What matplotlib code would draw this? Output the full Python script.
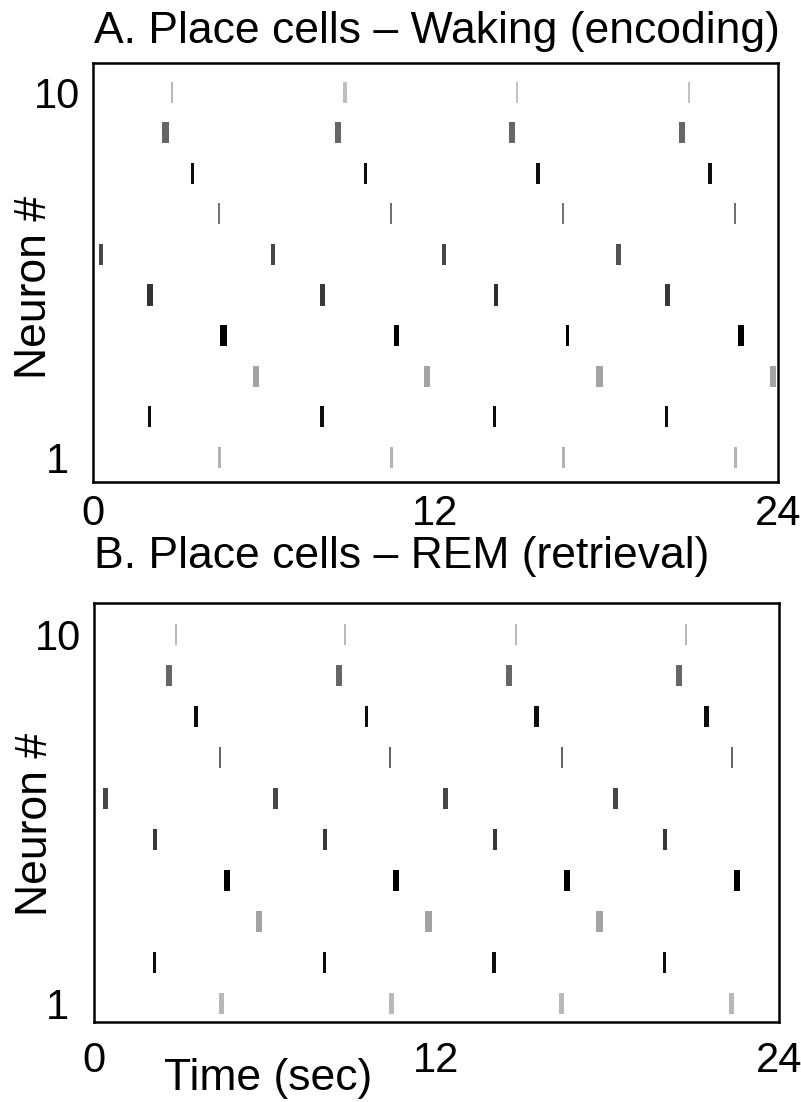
import matplotlib
matplotlib.use("Agg")
import matplotlib.pyplot as plt
import matplotlib.transforms as mtransforms
import numpy as np

plt.rcParams['font.family'] = ['Liberation Sans', 'DejaVu Sans']

# ---------------- data ----------------
neurons = list(range(1, 11))   # neuron index, row order 1..10

# Panel A: waking (encoding) - spike times (s), rows = neuron 1..10
wake_times = [
    [4.42, 10.46, 16.49, 22.51],   # 1
    [1.98, 8.02, 14.08, 20.09],    # 2
    [5.71, 11.71, 17.76, 23.85],   # 3
    [4.58, 10.64, 16.64, 22.71],   # 4
    [1.99, 8.03, 14.11, 20.12],    # 5
    [0.27, 6.29, 12.31, 18.41],    # 6
    [4.40, 10.44, 16.46, 22.49],   # 7
    [3.47, 9.56, 15.59, 21.63],    # 8
    [2.54, 8.57, 14.67, 20.65],    # 9
    [2.76, 8.82, 14.87, 20.90],    # 10
]
# firing intensity (0 = none, 1 = maximal)
wake_rate = [
    [0.30, 0.30, 0.30, 0.30],
    [0.95, 0.95, 0.95, 0.95],
    [0.36, 0.36, 0.36, 0.36],
    [1.00, 1.00, 1.00, 1.00],
    [0.80, 0.78, 0.82, 0.78],
    [0.72, 0.72, 0.72, 0.68],
    [0.55, 0.55, 0.55, 0.55],
    [0.95, 0.95, 0.95, 0.95],
    [0.60, 0.60, 0.60, 0.60],
    [0.28, 0.25, 0.24, 0.24],
]
# burst duration (s)
wake_dur = [
    [0.095, 0.105, 0.105, 0.095],
    [0.116, 0.116, 0.095, 0.116],
    [0.200, 0.210, 0.235, 0.210],
    [0.245, 0.186, 0.116, 0.200],
    [0.235, 0.175, 0.140, 0.175],
    [0.116, 0.140, 0.150, 0.186],
    [0.070, 0.070, 0.070, 0.070],
    [0.105, 0.105, 0.123, 0.123],
    [0.228, 0.210, 0.210, 0.210],
    [0.088, 0.158, 0.060, 0.060],
]

# Panel B: REM (retrieval)
rem_times = [
    [4.47, 10.43, 16.39, 22.34],
    [2.11, 8.07, 14.02, 19.98],
    [5.79, 11.71, 17.71],
    [4.65, 10.58, 16.56, 22.52],
    [2.14, 8.09, 14.05, 20.01],
    [0.39, 6.37, 12.32, 18.28],
    [4.41, 10.37, 16.39, 22.34],
    [3.57, 9.53, 15.51, 21.47],
    [2.64, 8.59, 14.55, 20.51],
    [2.87, 8.79, 14.80, 20.74],
]
rem_rate = [
    [0.28, 0.28, 0.28, 0.28],
    [0.95, 0.95, 0.95, 0.95],
    [0.36, 0.36, 0.36],
    [1.00, 1.00, 1.00, 1.00],
    [0.78, 0.78, 0.78, 0.78],
    [0.72, 0.72, 0.72, 0.72],
    [0.60, 0.60, 0.60, 0.60],
    [0.95, 0.95, 0.95, 0.95],
    [0.60, 0.60, 0.60, 0.60],
    [0.28, 0.28, 0.28, 0.28],
]
rem_dur = [
    [0.175, 0.175, 0.175, 0.175],
    [0.116, 0.116, 0.116, 0.116],
    [0.220, 0.255, 0.220],
    [0.210, 0.186, 0.210, 0.210],
    [0.165, 0.165, 0.165, 0.165],
    [0.175, 0.175, 0.175, 0.175],
    [0.070, 0.070, 0.070, 0.070],
    [0.123, 0.105, 0.165, 0.165],
    [0.210, 0.210, 0.210, 0.210],
    [0.070, 0.060, 0.070, 0.070],
]

titles = ["A. Place cells \u2013 Waking (encoding)", "B. Place cells \u2013 REM (retrieval)"]
x_ticks = [0, 12, 24]
y_ticks = [1, 10]
x_label = "Time (sec)"
y_label = "Neuron #"

# ---------------- figure ----------------
W, H = 801, 1102
fig = plt.figure(figsize=(W / 100, H / 100), dpi=100)

def frac_box(l, r, t, b):
    return [l / W, 1 - b / H, (r - l) / W, (b - t) / H]

axA = fig.add_axes(frac_box(93.3, 777.7, 63.3, 481.7))
axB = fig.add_axes(frac_box(94.0, 779.0, 603.3, 1021.7))

FS_TEXT = 32
FS_TICK = 30
BAR_H = 0.52
xlab_shift_px = [3, -8, -6]   # small horizontal nudges of the x tick labels

def draw(ax, times, rates, durs, ylim):
    for n, tr, rr, dr in zip(neurons, times, rates, durs):
        cols = [str(1 - r) for r in rr]
        ax.bar(tr, BAR_H, width=dr, bottom=n - BAR_H / 2, color=cols,
               edgecolor='none', linewidth=0, align='center')
    ax.set_xlim(0, 24)
    ax.set_ylim(*ylim)
    ax.set_xticks(x_ticks)
    ax.set_xticklabels([str(v) for v in x_ticks], fontsize=FS_TICK)
    ax.set_yticks(y_ticks)
    ax.set_yticklabels([str(v) for v in y_ticks], fontsize=FS_TICK)
    ax.tick_params(length=0)
    for lab in ax.get_yticklabels():
        lab.set_horizontalalignment('center')
    for lab, dx in zip(ax.get_xticklabels(), xlab_shift_px):
        lab.set_transform(lab.get_transform() +
                          mtransforms.ScaledTranslation(dx / 100, 0, fig.dpi_scale_trans))
    for s in ax.spines.values():
        s.set_linewidth(1.8)
        s.set_color('black')

draw(axA, wake_times, wake_rate, wake_dur, (0.40, 10.71))
draw(axB, rem_times, rem_rate, rem_dur, (0.55, 10.76))

axA.tick_params(axis='x', pad=9)
axB.tick_params(axis='x', pad=14)
axA.tick_params(axis='y', pad=26)
axB.tick_params(axis='y', pad=26)

for ax, yc in ((axA, 0.465), (axB, 0.472)):
    ax.set_ylabel(y_label, fontsize=FS_TEXT)
    ax.yaxis.set_label_coords(-0.056, yc)

fig.text(93.5 / W, 1 - 43 / H, titles[0], fontsize=FS_TEXT, ha='left', va='baseline')
fig.text(93.5 / W, 1 - 568 / H, titles[1], fontsize=FS_TEXT, ha='left', va='baseline')
fig.text(268 / W, 1 - 1090 / H, x_label, fontsize=FS_TEXT, ha='center', va='baseline')

fig.savefig("out.png", dpi=100)
